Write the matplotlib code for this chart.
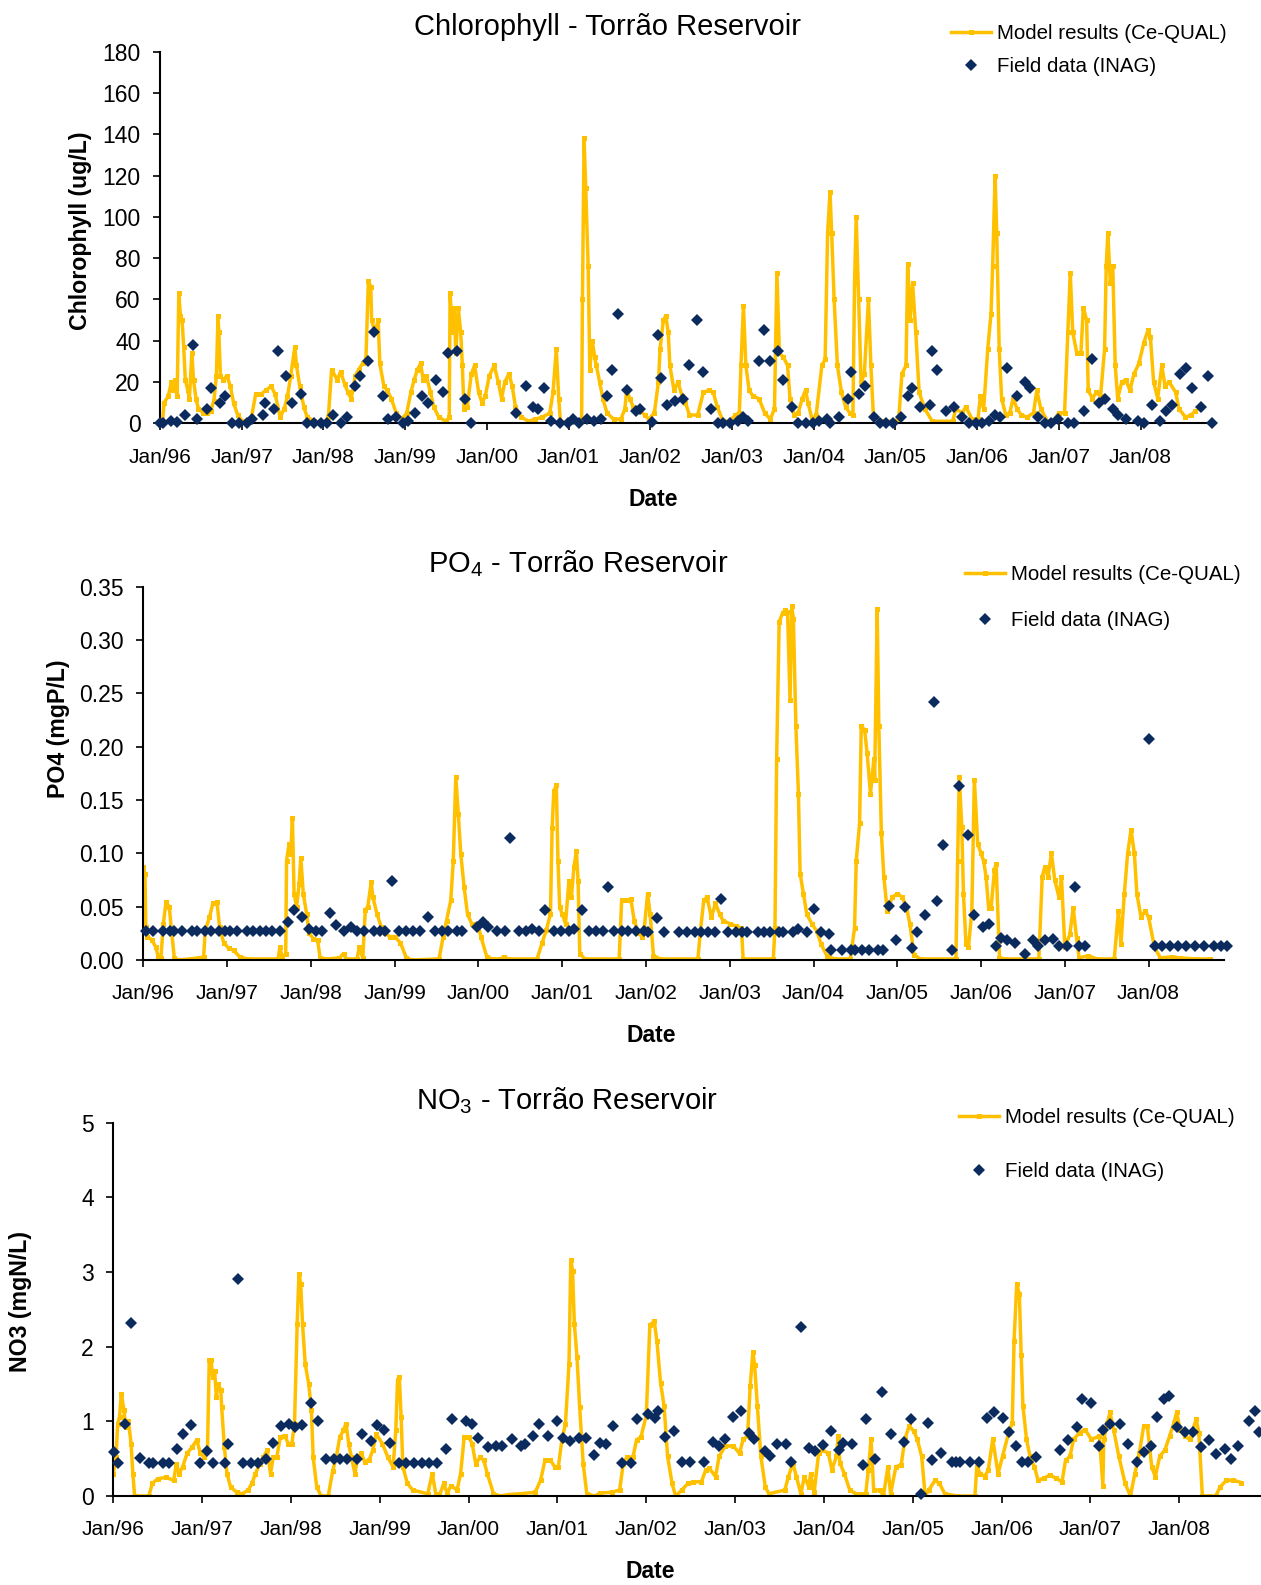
import numpy as np
import matplotlib
matplotlib.use('Agg')
import matplotlib.pyplot as plt

plt.rcParams['font.family'] = ['Liberation Sans', 'DejaVu Sans']
plt.rcParams['mathtext.fontset'] = 'custom'
plt.rcParams['mathtext.rm'] = 'Liberation Sans'

YELLOW = '#FFC000'
NAVY = '#0B2A5E'

years = list(range(1996, 2009))
year_labels = ['Jan/%02d' % (y % 100) for y in years]

# ---- Chlorophyll (ug/L) ----
chl_model_t = [1996.03, 1996.05, 1996.10, 1996.14, 1996.16, 1996.18, 1996.21, 1996.23, 1996.25, 1996.27,
               1996.29, 1996.31, 1996.34, 1996.36, 1996.39, 1996.41, 1996.44, 1996.47, 1996.53, 1996.58,
               1996.62, 1996.66, 1996.69, 1996.71, 1996.72, 1996.74, 1996.77, 1996.82, 1996.86, 1996.90,
               1996.95, 1997.01, 1997.08, 1997.12, 1997.17, 1997.23, 1997.30, 1997.36, 1997.41, 1997.47,
               1997.52, 1997.56, 1997.60, 1997.65, 1997.67, 1997.71, 1997.76, 1997.80, 1997.89, 1998.00,
               1998.06, 1998.10, 1998.17, 1998.21, 1998.26, 1998.30, 1998.34, 1998.39, 1998.43, 1998.48,
               1998.52, 1998.55, 1998.58, 1998.59, 1998.63, 1998.67, 1998.69, 1998.74, 1998.78, 1998.83,
               1998.89, 1998.96, 1999.02, 1999.07, 1999.11, 1999.15, 1999.19, 1999.22, 1999.26, 1999.31,
               1999.35, 1999.41, 1999.50, 1999.54, 1999.55, 1999.58, 1999.60, 1999.62, 1999.65, 1999.68,
               1999.70, 1999.72, 1999.76, 1999.81, 1999.85, 1999.90, 1999.94, 1999.98, 2000.03, 2000.09,
               2000.14, 2000.18, 2000.22, 2000.27, 2000.31, 2000.35, 2000.42, 2000.51, 2000.59, 2000.68,
               2000.77, 2000.81, 2000.85, 2000.88, 2000.90, 2000.99, 2001.12, 2001.16, 2001.17, 2001.19,
               2001.21, 2001.24, 2001.26, 2001.29, 2001.32, 2001.34, 2001.38, 2001.42, 2001.47, 2001.55,
               2001.64, 2001.69, 2001.71, 2001.75, 2001.79, 2001.86, 2001.93, 2001.98, 2002.05, 2002.10,
               2002.12, 2002.16, 2002.19, 2002.22, 2002.24, 2002.29, 2002.34, 2002.39, 2002.43, 2002.48,
               2002.58, 2002.65, 2002.72, 2002.77, 2002.82, 2002.89, 2002.97, 2003.04, 2003.09, 2003.11,
               2003.14, 2003.17, 2003.21, 2003.26, 2003.33, 2003.40, 2003.47, 2003.52, 2003.55, 2003.58,
               2003.63, 2003.68, 2003.71, 2003.76, 2003.81, 2003.86, 2003.90, 2003.93, 2003.98, 2004.03,
               2004.10, 2004.14, 2004.17, 2004.20, 2004.22, 2004.25, 2004.29, 2004.34, 2004.39, 2004.44,
               2004.48, 2004.50, 2004.52, 2004.55, 2004.58, 2004.62, 2004.67, 2004.70, 2004.73, 2004.83,
               2004.97, 2005.04, 2005.08, 2005.13, 2005.15, 2005.18, 2005.21, 2005.25, 2005.29, 2005.36,
               2005.45, 2005.70, 2005.74, 2005.82, 2005.86, 2005.94, 2006.01, 2006.04, 2006.08, 2006.13,
               2006.17, 2006.19, 2006.22, 2006.24, 2006.27, 2006.30, 2006.35, 2006.40, 2006.44, 2006.49,
               2006.54, 2006.61, 2006.69, 2006.73, 2006.78, 2006.86, 2006.93, 2007.00, 2007.07, 2007.11,
               2007.14, 2007.17, 2007.22, 2007.27, 2007.30, 2007.34, 2007.36, 2007.41, 2007.46, 2007.51,
               2007.56, 2007.58, 2007.60, 2007.63, 2007.66, 2007.69, 2007.72, 2007.77, 2007.82, 2007.87,
               2007.92, 2007.98, 2008.04, 2008.09, 2008.12, 2008.16, 2008.21, 2008.26, 2008.30, 2008.35,
               2008.43, 2008.47, 2008.55, 2008.62, 2008.67]
chl_model_v = [0, 10, 13, 20, 16, 21, 13, 63, 52, 50,
               37, 21, 16, 12, 34, 21, 12, 7, 5, 5,
               6, 11, 23, 52, 44, 23, 21, 23, 18, 10,
               4, 1, 1, 3, 14, 14, 16, 18, 14, 3,
               7, 13, 23, 37, 28, 18, 8, 3, 1, 0,
               3, 26, 21, 25, 19, 15, 12, 23, 26, 29,
               31, 69, 66, 50, 44, 50, 29, 18, 16, 12,
               5, 2, 5, 15, 21, 26, 29, 21, 23, 15,
               8, 3, 1, 3, 63, 44, 56, 34, 56, 44,
               28, 7, 8, 24, 28, 15, 10, 13, 23, 28,
               20, 12, 20, 24, 18, 8, 3, 1, 2, 3,
               5, 15, 36, 12, 1, 0, 1, 2, 60, 138,
               114, 76, 26, 40, 32, 28, 20, 12, 5, 2,
               2, 7, 16, 12, 8, 7, 4, 2, 5, 20,
               36, 50, 52, 44, 28, 16, 20, 13, 10, 4,
               4, 15, 16, 15, 8, 1, 1, 4, 5, 28,
               57, 28, 16, 13, 12, 5, 2, 7, 73, 34,
               32, 28, 12, 4, 5, 12, 16, 10, 2, 4,
               28, 31, 92, 112, 92, 60, 28, 15, 8, 5,
               4, 68, 100, 60, 20, 24, 60, 28, 4, 1,
               1, 2, 24, 28, 77, 50, 68, 44, 15, 7,
               1, 1, 7, 5, 8, 2, 2, 13, 7, 36,
               53, 76, 120, 92, 36, 12, 4, 5, 12, 7,
               4, 3, 5, 16, 7, 1, 1, 5, 5, 44,
               73, 44, 34, 34, 56, 50, 16, 12, 15, 13,
               36, 76, 92, 68, 76, 28, 12, 20, 21, 16,
               24, 29, 39, 45, 42, 20, 12, 28, 18, 20,
               15, 7, 3, 4, 6]

chl_field_t = [1996.00, 1996.04, 1996.13, 1996.21, 1996.30, 1996.40, 1996.45, 1996.57, 1996.63, 1996.73,
               1996.79, 1996.88, 1996.97, 1997.06, 1997.12, 1997.26, 1997.29, 1997.40, 1997.45, 1997.54,
               1997.62, 1997.72, 1997.80, 1997.89, 1997.97, 1998.04, 1998.12, 1998.22, 1998.29, 1998.39,
               1998.45, 1998.54, 1998.62, 1998.73, 1998.79, 1998.89, 1998.97, 1999.04, 1999.12, 1999.21,
               1999.28, 1999.38, 1999.46, 1999.53, 1999.63, 1999.73, 1999.81, 2000.36, 2000.48, 2000.57,
               2000.63, 2000.70, 2000.79, 2000.89, 2000.99, 2001.06, 2001.13, 2001.23, 2001.31, 2001.40,
               2001.47, 2001.53, 2001.61, 2001.72, 2001.82, 2001.88, 2002.02, 2002.09, 2002.13, 2002.21,
               2002.30, 2002.40, 2002.48, 2002.57, 2002.65, 2002.74, 2002.83, 2002.89, 2002.98, 2003.07,
               2003.14, 2003.20, 2003.33, 2003.39, 2003.46, 2003.56, 2003.63, 2003.74, 2003.81, 2003.90,
               2003.99, 2004.07, 2004.16, 2004.20, 2004.31, 2004.42, 2004.46, 2004.56, 2004.63, 2004.74,
               2004.81, 2004.89, 2004.97, 2005.07, 2005.15, 2005.20, 2005.30, 2005.42, 2005.45, 2005.51,
               2005.62, 2005.72, 2005.82, 2005.90, 2005.99, 2006.06, 2006.14, 2006.22, 2006.28, 2006.37,
               2006.49, 2006.59, 2006.65, 2006.74, 2006.83, 2006.90, 2006.99, 2007.11, 2007.19, 2007.31,
               2007.40, 2007.49, 2007.57, 2007.66, 2007.73, 2007.82, 2007.97, 2008.04, 2008.14, 2008.24,
               2008.31, 2008.39, 2008.48, 2008.56, 2008.63, 2008.74, 2008.82, 2008.87]
chl_field_v = [0, 0, 1, 0.5, 4, 38, 2, 7, 17, 10,
               13, 0, 0, 0, 2, 4, 10, 7, 35, 23,
               10, 14, 0, 0, 0, 0, 4, 0, 3, 18,
               23, 30, 44, 13, 2, 3, 0, 1, 5, 13,
               10, 21, 15, 34, 35, 12, 0, 5, 18, 8,
               7, 17, 1, 0, 0, 2, 0, 2, 1, 2,
               13, 26, 53, 16, 6, 7, 0.5, 43, 22, 9,
               11, 12, 28, 50, 25, 7, 0, 0, 0, 1,
               3, 1, 30, 45, 30, 35, 21, 8, 0, 0,
               0, 1, 2, 0, 3, 12, 25, 14, 18, 3,
               0, 0, 0, 3, 13, 17, 8, 9, 35, 26,
               6, 8, 3, 0, 0, 0, 1, 4, 3, 27,
               13, 20, 17, 3, 0, 0, 2, 0, 0, 6,
               31, 10, 12, 7, 4, 2, 1, 0, 9, 1,
               6, 9, 24, 27, 17, 8, 23, 0]

# ---- PO4 (mgP/L) ----
po4_model_t = [1996.00, 1996.02, 1996.03, 1996.05, 1996.10, 1996.15, 1996.18, 1996.21, 1996.24, 1996.27,
               1996.31, 1996.34, 1996.37, 1996.42, 1996.67, 1996.72, 1996.74, 1996.79, 1996.83, 1996.88,
               1996.91, 1996.96, 1997.02, 1997.08, 1997.15, 1997.24, 1997.61, 1997.63, 1997.66, 1997.70,
               1997.71, 1997.74, 1997.76, 1997.78, 1997.80, 1997.83, 1997.86, 1997.88, 1997.91, 1997.95,
               1997.98, 1998.03, 1998.08, 1998.11, 1998.20, 1998.34, 1998.39, 1998.42, 1998.55, 1998.58,
               1998.62, 1998.65, 1998.68, 1998.72, 1998.74, 1998.79, 1998.84, 1998.89, 1998.94, 1999.00,
               1999.07, 1999.14, 1999.21, 1999.53, 1999.58, 1999.62, 1999.67, 1999.70, 1999.73, 1999.76,
               1999.79, 1999.83, 1999.87, 1999.92, 1999.99, 2000.03, 2000.10, 2000.17, 2000.26, 2000.31,
               2000.35, 2000.70, 2000.76, 2000.81, 2000.86, 2000.88, 2000.90, 2000.93, 2000.95, 2000.97,
               2001.00, 2001.04, 2001.08, 2001.11, 2001.14, 2001.17, 2001.19, 2001.21, 2001.27, 2001.68,
               2001.71, 2001.77, 2001.82, 2001.86, 2001.91, 2001.95, 2001.98, 2002.02, 2002.05, 2002.09,
               2002.17, 2002.62, 2002.65, 2002.69, 2002.73, 2002.78, 2002.83, 2002.88, 2002.92, 2003.00,
               2003.07, 2003.14, 2003.16, 2003.52, 2003.54, 2003.56, 2003.59, 2003.63, 2003.66, 2003.69,
               2003.72, 2003.74, 2003.76, 2003.79, 2003.82, 2003.84, 2003.88, 2003.92, 2003.98, 2004.04,
               2004.09, 2004.16, 2004.25, 2004.44, 2004.49, 2004.51, 2004.55, 2004.57, 2004.61, 2004.64,
               2004.68, 2004.72, 2004.73, 2004.76, 2004.78, 2004.81, 2004.84, 2004.88, 2004.94, 2005.00,
               2005.06, 2005.11, 2005.15, 2005.20, 2005.27, 2005.70, 2005.72, 2005.74, 2005.77, 2005.79,
               2005.82, 2005.85, 2005.89, 2005.92, 2005.96, 2006.00, 2006.03, 2006.06, 2006.09, 2006.12,
               2006.16, 2006.18, 2006.22, 2006.29, 2006.69, 2006.73, 2006.76, 2006.80, 2006.84, 2006.88,
               2006.93, 2006.96, 2007.00, 2007.06, 2007.10, 2007.14, 2007.17, 2007.28, 2007.38, 2007.59,
               2007.64, 2007.67, 2007.71, 2007.75, 2007.79, 2007.83, 2007.86, 2007.91, 2007.96, 2008.00,
               2008.07, 2008.14, 2008.28, 2008.37, 2008.56, 2008.73]
po4_model_v = [0.087, 0.081, 0.031, 0.022, 0.019, 0.012, 0.002, 0.002, 0.034, 0.054,
               0.050, 0.025, 0.002, 0.000, 0.002, 0.003, 0.028, 0.040, 0.053, 0.054,
               0.031, 0.016, 0.011, 0.009, 0.003, 0.001, 0.001, 0.012, 0.002, 0.006,
               0.093, 0.109, 0.099, 0.133, 0.062, 0.050, 0.071, 0.096, 0.062, 0.043,
               0.025, 0.020, 0.019, 0.002, 0.001, 0.002, 0.006, 0.001, 0.001, 0.012,
               0.002, 0.047, 0.050, 0.073, 0.059, 0.043, 0.031, 0.025, 0.022, 0.022,
               0.016, 0.002, 0.000, 0.001, 0.022, 0.037, 0.056, 0.093, 0.172, 0.137,
               0.099, 0.068, 0.043, 0.034, 0.034, 0.022, 0.003, 0.001, 0.001, 0.003,
               0.001, 0.001, 0.016, 0.028, 0.043, 0.124, 0.158, 0.164, 0.093, 0.050,
               0.043, 0.034, 0.074, 0.059, 0.087, 0.102, 0.074, 0.006, 0.001, 0.001,
               0.056, 0.056, 0.057, 0.037, 0.025, 0.022, 0.030, 0.062, 0.043, 0.004,
               0.001, 0.001, 0.027, 0.056, 0.059, 0.040, 0.053, 0.043, 0.037, 0.034,
               0.032, 0.030, 0.001, 0.001, 0.030, 0.188, 0.317, 0.325, 0.328, 0.326,
               0.244, 0.332, 0.320, 0.219, 0.156, 0.081, 0.062, 0.043, 0.034, 0.027,
               0.015, 0.004, 0.001, 0.001, 0.030, 0.093, 0.128, 0.219, 0.216, 0.194,
               0.156, 0.188, 0.169, 0.329, 0.219, 0.119, 0.078, 0.046, 0.059, 0.062,
               0.059, 0.049, 0.034, 0.005, 0.001, 0.001, 0.093, 0.172, 0.125, 0.062,
               0.015, 0.012, 0.046, 0.169, 0.109, 0.100, 0.093, 0.078, 0.049, 0.049,
               0.084, 0.090, 0.002, 0.001, 0.001, 0.078, 0.087, 0.078, 0.100, 0.075,
               0.059, 0.078, 0.012, 0.024, 0.049, 0.021, 0.002, 0.004, 0.001, 0.001,
               0.046, 0.015, 0.062, 0.100, 0.122, 0.100, 0.062, 0.040, 0.046, 0.040,
               0.012, 0.002, 0.003, 0.002, 0.001, 0.001]

po4_field_t = [1996.03, 1996.11, 1996.23, 1996.32, 1996.37, 1996.46, 1996.58, 1996.64, 1996.74, 1996.81,
               1996.90, 1996.98, 1997.04, 1997.12, 1997.24, 1997.31, 1997.39, 1997.47, 1997.54, 1997.63,
               1997.73, 1997.80, 1997.89, 1997.98, 1998.06, 1998.13, 1998.23, 1998.30, 1998.40, 1998.48,
               1998.55, 1998.64, 1998.75, 1998.83, 1998.89, 1998.97, 1999.05, 1999.13, 1999.22, 1999.30,
               1999.40, 1999.48, 1999.57, 1999.64, 1999.74, 1999.81, 1999.98, 2000.06, 2000.12, 2000.22,
               2000.32, 2000.38, 2000.49, 2000.57, 2000.64, 2000.72, 2000.80, 2000.90, 2000.99, 2001.08,
               2001.14, 2001.24, 2001.32, 2001.40, 2001.49, 2001.55, 2001.62, 2001.72, 2001.79, 2001.88,
               2001.98, 2002.02, 2002.13, 2002.21, 2002.39, 2002.49, 2002.58, 2002.66, 2002.74, 2002.83,
               2002.89, 2002.98, 2003.08, 2003.15, 2003.21, 2003.34, 2003.41, 2003.48, 2003.59, 2003.64,
               2003.75, 2003.82, 2003.92, 2004.00, 2004.09, 2004.18, 2004.21, 2004.34, 2004.45, 2004.49,
               2004.58, 2004.66, 2004.77, 2004.83, 2004.90, 2004.99, 2005.09, 2005.18, 2005.23, 2005.33,
               2005.44, 2005.47, 2005.54, 2005.65, 2005.74, 2005.85, 2005.92, 2006.02, 2006.10, 2006.18,
               2006.24, 2006.31, 2006.40, 2006.52, 2006.62, 2006.68, 2006.76, 2006.86, 2006.93, 2007.02,
               2007.12, 2007.17, 2007.24, 2008.00, 2008.08, 2008.16, 2008.26, 2008.35, 2008.45, 2008.55,
               2008.66, 2008.78, 2008.86, 2008.93]
po4_field_v = [0.027, 0.027, 0.027, 0.027, 0.027, 0.027, 0.027, 0.027, 0.027, 0.027,
               0.027, 0.027, 0.027, 0.027, 0.027, 0.027, 0.027, 0.027, 0.027, 0.027,
               0.036, 0.047, 0.040, 0.029, 0.027, 0.027, 0.044, 0.033, 0.027, 0.031,
               0.027, 0.027, 0.027, 0.027, 0.027, 0.074, 0.027, 0.027, 0.027, 0.027,
               0.040, 0.027, 0.027, 0.027, 0.027, 0.027, 0.031, 0.036, 0.031, 0.027,
               0.027, 0.114, 0.027, 0.027, 0.029, 0.027, 0.047, 0.027, 0.027, 0.027,
               0.029, 0.047, 0.027, 0.027, 0.027, 0.068, 0.027, 0.027, 0.027, 0.027,
               0.027, 0.026, 0.039, 0.026, 0.026, 0.026, 0.026, 0.026, 0.026, 0.026,
               0.057, 0.026, 0.026, 0.026, 0.026, 0.026, 0.026, 0.026, 0.026, 0.026,
               0.026, 0.029, 0.026, 0.048, 0.026, 0.024, 0.009, 0.009, 0.009, 0.009,
               0.009, 0.009, 0.009, 0.009, 0.051, 0.019, 0.050, 0.011, 0.026, 0.042,
               0.242, 0.055, 0.108, 0.009, 0.163, 0.117, 0.042, 0.031, 0.034, 0.013,
               0.021, 0.019, 0.016, 0.006, 0.019, 0.013, 0.019, 0.020, 0.013, 0.013,
               0.068, 0.013, 0.013, 0.207, 0.013, 0.013, 0.013, 0.013, 0.013, 0.013,
               0.013, 0.013, 0.013, 0.013]

# ---- NO3 (mgN/L) ----
no3_model_t = [1996.00, 1996.03, 1996.05, 1996.07, 1996.09, 1996.12, 1996.14, 1996.17, 1996.20, 1996.22,
               1996.24, 1996.40, 1996.44, 1996.50, 1996.59, 1996.68, 1996.71, 1996.74, 1996.78, 1996.83,
               1996.89, 1996.94, 1996.98, 1997.02, 1997.06, 1997.08, 1997.10, 1997.12, 1997.14, 1997.16,
               1997.18, 1997.21, 1997.22, 1997.25, 1997.28, 1997.32, 1997.39, 1997.45, 1997.52, 1997.56,
               1997.60, 1997.65, 1997.69, 1997.73, 1997.77, 1997.80, 1997.84, 1997.88, 1997.93, 1997.97,
               1998.01, 1998.04, 1998.07, 1998.09, 1998.11, 1998.13, 1998.16, 1998.20, 1998.23, 1998.25,
               1998.29, 1998.34, 1998.42, 1998.47, 1998.51, 1998.55, 1998.59, 1998.62, 1998.65, 1998.68,
               1998.72, 1998.75, 1998.79, 1998.83, 1998.88, 1998.92, 1998.96, 1999.03, 1999.09, 1999.15,
               1999.18, 1999.20, 1999.22, 1999.24, 1999.26, 1999.31, 1999.37, 1999.54, 1999.59, 1999.63,
               1999.67, 1999.72, 1999.76, 1999.80, 1999.87, 1999.91, 1999.95, 2000.00, 2000.04, 2000.08,
               2000.13, 2000.17, 2000.21, 2000.28, 2000.36, 2000.45, 2000.58, 2000.75, 2000.81, 2000.86,
               2000.92, 2000.97, 2001.01, 2001.05, 2001.09, 2001.13, 2001.15, 2001.17, 2001.19, 2001.22,
               2001.25, 2001.29, 2001.33, 2001.42, 2001.48, 2001.61, 2001.70, 2001.74, 2001.78, 2001.85,
               2001.89, 2001.94, 2002.00, 2002.04, 2002.09, 2002.12, 2002.16, 2002.20, 2002.24, 2002.29,
               2002.33, 2002.40, 2002.47, 2002.53, 2002.62, 2002.67, 2002.71, 2002.78, 2002.82, 2002.89,
               2002.98, 2003.05, 2003.09, 2003.14, 2003.17, 2003.20, 2003.22, 2003.25, 2003.29, 2003.34,
               2003.38, 2003.56, 2003.60, 2003.65, 2003.69, 2003.74, 2003.78, 2003.83, 2003.85, 2003.89,
               2003.94, 2003.98, 2004.05, 2004.09, 2004.14, 2004.16, 2004.18, 2004.23, 2004.29, 2004.36,
               2004.47, 2004.50, 2004.53, 2004.56, 2004.63, 2004.67, 2004.72, 2004.75, 2004.81, 2004.87,
               2004.91, 2004.96, 2005.01, 2005.05, 2005.10, 2005.14, 2005.18, 2005.25, 2005.30, 2005.36,
               2005.50, 2005.70, 2005.72, 2005.76, 2005.81, 2005.85, 2005.90, 2005.96, 2006.01, 2006.08,
               2006.12, 2006.14, 2006.17, 2006.20, 2006.22, 2006.24, 2006.28, 2006.32, 2006.37, 2006.41,
               2006.48, 2006.54, 2006.61, 2006.68, 2006.72, 2006.77, 2006.81, 2006.88, 2006.94, 2007.01,
               2007.10, 2007.14, 2007.15, 2007.19, 2007.22, 2007.26, 2007.32, 2007.39, 2007.45, 2007.50,
               2007.55, 2007.60, 2007.64, 2007.69, 2007.73, 2007.78, 2007.84, 2007.89, 2007.94, 2007.97,
               2008.01, 2008.06, 2008.12, 2008.19, 2008.22, 2008.26, 2008.33, 2008.41, 2008.46, 2008.53,
               2008.61, 2008.70]
no3_model_v = [0.30, 0.52, 0.97, 1.06, 1.37, 1.15, 0.92, 1.01, 0.70, 0.30,
               0.00, 0.00, 0.17, 0.23, 0.25, 0.21, 0.43, 0.30, 0.39, 0.57,
               0.66, 0.75, 0.57, 0.52, 0.61, 1.82, 1.82, 1.59, 1.68, 1.33,
               1.50, 1.42, 1.19, 0.66, 0.30, 0.12, 0.05, 0.03, 0.08, 0.17,
               0.30, 0.43, 0.52, 0.61, 0.30, 0.52, 0.52, 0.79, 0.81, 0.70,
               0.70, 0.97, 2.31, 2.98, 2.84, 2.31, 1.77, 1.50, 1.15, 0.52,
               0.12, 0.00, 0.00, 0.34, 0.52, 0.79, 0.88, 0.97, 0.70, 0.52,
               0.30, 0.52, 0.57, 0.46, 0.48, 0.61, 0.83, 0.70, 0.52, 0.39,
               0.88, 1.55, 1.59, 1.06, 0.39, 0.17, 0.08, 0.03, 0.30, 0.03,
               0.00, 0.17, 0.03, 0.14, 0.08, 0.30, 0.79, 0.79, 0.70, 0.43,
               0.52, 0.48, 0.30, 0.03, 0.00, 0.02, 0.03, 0.05, 0.21, 0.48,
               0.48, 0.39, 0.39, 0.75, 0.97, 1.77, 3.16, 3.02, 2.31, 1.86,
               1.19, 0.43, 0.03, 0.00, 0.04, 0.05, 0.08, 0.43, 0.52, 0.52,
               0.75, 0.79, 1.08, 2.29, 2.34, 2.07, 1.52, 1.21, 0.53, 0.17,
               0.00, 0.08, 0.17, 0.19, 0.19, 0.35, 0.37, 0.26, 0.53, 0.67,
               0.67, 0.57, 0.76, 0.80, 1.48, 1.93, 1.75, 1.21, 0.53, 0.12,
               0.03, 0.08, 0.26, 0.44, 0.26, 0.03, 0.26, 0.12, 0.30, 0.05,
               0.57, 0.62, 0.57, 0.35, 0.53, 0.80, 0.44, 0.30, 0.08, 0.03,
               0.03, 0.35, 0.76, 0.08, 0.08, 0.00, 0.39, 0.03, 0.39, 0.42,
               0.76, 0.94, 0.87, 0.76, 0.53, 0.00, 0.08, 0.21, 0.17, 0.03,
               0.00, 0.00, 0.39, 0.30, 0.26, 0.35, 0.76, 0.30, 0.53, 0.85,
               0.98, 2.07, 2.84, 2.70, 1.89, 1.21, 0.76, 0.53, 0.39, 0.21,
               0.24, 0.28, 0.24, 0.19, 0.48, 0.53, 0.76, 0.85, 0.89, 0.76,
               0.80, 0.14, 0.76, 0.98, 1.12, 0.89, 0.53, 0.17, 0.00, 0.30,
               0.57, 0.94, 0.94, 0.39, 0.26, 0.53, 0.62, 0.80, 0.98, 1.12,
               0.89, 0.80, 0.76, 1.03, 0.85, 0.00, 0.00, 0.00, 0.12, 0.21,
               0.21, 0.18]

no3_field_t = [1996.01, 1996.05, 1996.13, 1996.20, 1996.30, 1996.40, 1996.45, 1996.56, 1996.63, 1996.72,
               1996.79, 1996.87, 1996.98, 1997.06, 1997.12, 1997.26, 1997.29, 1997.40, 1997.46, 1997.55,
               1997.63, 1997.72, 1997.80, 1997.89, 1997.98, 1998.05, 1998.12, 1998.22, 1998.30, 1998.39,
               1998.48, 1998.55, 1998.63, 1998.74, 1998.80, 1998.90, 1998.97, 1999.05, 1999.12, 1999.22,
               1999.30, 1999.39, 1999.47, 1999.55, 1999.64, 1999.75, 1999.81, 1999.97, 2000.04, 2000.11,
               2000.22, 2000.31, 2000.38, 2000.49, 2000.59, 2000.64, 2000.72, 2000.79, 2000.89, 2000.99,
               2001.06, 2001.14, 2001.24, 2001.32, 2001.41, 2001.48, 2001.55, 2001.62, 2001.73, 2001.83,
               2001.89, 2002.02, 2002.10, 2002.13, 2002.21, 2002.31, 2002.40, 2002.49, 2002.65, 2002.75,
               2002.82, 2002.89, 2002.98, 2003.07, 2003.16, 2003.21, 2003.34, 2003.39, 2003.47, 2003.57,
               2003.63, 2003.74, 2003.83, 2003.90, 2003.99, 2004.08, 2004.17, 2004.21, 2004.32, 2004.44,
               2004.47, 2004.57, 2004.65, 2004.76, 2004.90, 2004.98, 2005.09, 2005.17, 2005.22, 2005.32,
               2005.44, 2005.49, 2005.53, 2005.64, 2005.74, 2005.84, 2005.91, 2006.01, 2006.08, 2006.16,
               2006.23, 2006.30, 2006.39, 2006.66, 2006.75, 2006.85, 2006.91, 2007.01, 2007.10, 2007.14,
               2007.22, 2007.33, 2007.42, 2007.52, 2007.60, 2007.68, 2007.75, 2007.83, 2007.88, 2007.98,
               2008.07, 2008.16, 2008.25, 2008.33, 2008.41, 2008.52, 2008.58, 2008.66, 2008.78, 2008.85,
               2008.90]
no3_field_v = [0.59, 0.44, 0.97, 2.32, 0.51, 0.44, 0.44, 0.44, 0.44, 0.63,
               0.83, 0.95, 0.44, 0.60, 0.44, 0.44, 0.69, 2.91, 0.44, 0.44,
               0.44, 0.49, 0.71, 0.94, 0.97, 0.92, 0.95, 1.24, 1.00, 0.49,
               0.49, 0.49, 0.49, 0.49, 0.83, 0.74, 0.95, 0.89, 0.71, 0.44,
               0.44, 0.44, 0.44, 0.44, 0.44, 0.63, 1.03, 1.00, 0.96, 0.78,
               0.65, 0.67, 0.67, 0.76, 0.67, 0.69, 0.80, 0.96, 0.80, 1.00,
               0.78, 0.74, 0.78, 0.78, 0.55, 0.71, 0.69, 0.94, 0.44, 0.44,
               1.03, 1.10, 1.05, 1.14, 0.79, 0.87, 0.45, 0.45, 0.45, 0.72,
               0.67, 0.77, 1.06, 1.14, 0.84, 0.77, 0.60, 0.54, 0.70, 0.70,
               0.45, 2.26, 0.64, 0.60, 0.68, 0.87, 0.61, 0.71, 0.70, 0.42,
               1.03, 0.50, 1.39, 0.83, 0.72, 1.03, 0.03, 0.98, 0.48, 0.57,
               0.45, 0.45, 0.45, 0.45, 0.45, 1.05, 1.12, 1.04, 0.86, 0.67,
               0.45, 0.45, 0.52, 0.61, 0.75, 0.93, 1.30, 1.25, 0.67, 0.88,
               0.96, 0.97, 0.70, 0.45, 0.59, 0.67, 1.06, 1.30, 1.34, 0.93,
               0.86, 0.86, 0.66, 0.75, 0.56, 0.63, 0.50, 0.67, 1.00, 1.14,
               0.86]

W, H = 1261, 1585
fig = plt.figure(figsize=(W / 100, H / 100), dpi=100)


def px(x, y):
    return x / W, 1 - y / H


panels = [
    dict(rect=(160, 51.7, 1210, 423.3), xmax=2008.85,
         model=(chl_model_t, chl_model_v), field=(chl_field_t, chl_field_v),
         ylim=(0, 180), yticks=np.arange(0, 181, 20), yfmt='%d',
         title='Chlorophyll - Torrão Reservoir', title_xy=(607, 27),
         ylabel='Chlorophyll (ug/L)', ylabel_xy=(80, 231), xlabel_xy=(653, 500),
         leg_xy=(951, 24), leg_sp=0.7),
    dict(rect=(143.3, 586.7, 1224, 960), xmax=2008.9,
         model=(po4_model_t, po4_model_v), field=(po4_field_t, po4_field_v),
         ylim=(0, 0.35), yticks=np.arange(0, 0.351, 0.05), yfmt='%.2f',
         title=r'PO$_\mathregular{4}$ - Torrão Reservoir', title_xy=(578, 564),
         ylabel='PO4 (mgP/L)', ylabel_xy=(59, 729), xlabel_xy=(651, 1036),
         leg_xy=(965, 565), leg_sp=1.3),
    dict(rect=(113.3, 1122.7, 1261, 1496), xmax=2008.92,
         model=(no3_model_t, no3_model_v), field=(no3_field_t, no3_field_v),
         ylim=(0, 5), yticks=np.arange(0, 6, 1), yfmt='%d',
         title=r'NO$_\mathregular{3}$ - Torrão Reservoir', title_xy=(567, 1101),
         ylabel='NO3 (mgN/L)', ylabel_xy=(21, 1302), xlabel_xy=(650, 1572),
         leg_xy=(959, 1108), leg_sp=1.7),
]

for p in panels:
    x0, y0, x1, y1 = p['rect']
    ax = fig.add_axes([x0 / W, 1 - y1 / H, (x1 - x0) / W, (y1 - y0) / H])
    mt, mv = p['model']
    ft, fv = p['field']
    ax.plot(mt, mv, color=YELLOW, lw=2.5, marker='s', ms=3.6, mew=0,
            label='Model results (Ce-QUAL)', zorder=2)
    ax.plot(ft, fv, ls='none', marker='D', ms=6.4, color=NAVY, mew=0,
            label='Field data (INAG)', zorder=3, clip_on=False)
    ax.set_xlim(1996, p['xmax'])
    ax.set_ylim(*p['ylim'])
    ax.set_xticks(years)
    ax.set_xticklabels(year_labels)
    ax.set_yticks(p['yticks'])
    ax.set_yticklabels([p['yfmt'] % v for v in p['yticks']])
    for s in ['top', 'right']:
        ax.spines[s].set_visible(False)
    for s in ['left', 'bottom']:
        ax.spines[s].set_linewidth(1.5)
    ax.tick_params(axis='both', direction='out', length=5, width=1.2)
    ax.tick_params(axis='x', pad=12.5, labelsize=15)
    ax.tick_params(axis='y', pad=9, labelsize=16.5)
    ax.patch.set_alpha(0)

    fig.text(*px(*p['title_xy']), p['title'], fontsize=21, ha='center', va='center')
    fig.text(*px(*p['ylabel_xy']), p['ylabel'], fontsize=16.7, fontweight='bold',
             rotation=90, ha='center', va='center')
    fig.text(*px(*p['xlabel_xy']), 'Date', fontsize=16.5, fontweight='bold',
             ha='center', va='center')
    ax.legend(loc='upper left', bbox_to_anchor=px(*p['leg_xy']), bbox_transform=fig.transFigure,
              frameon=False, fontsize=14.8, borderpad=0, borderaxespad=0,
              handlelength=1.95, handletextpad=0.3, labelspacing=p['leg_sp'], numpoints=1)

fig.savefig('out.png', dpi=100)
